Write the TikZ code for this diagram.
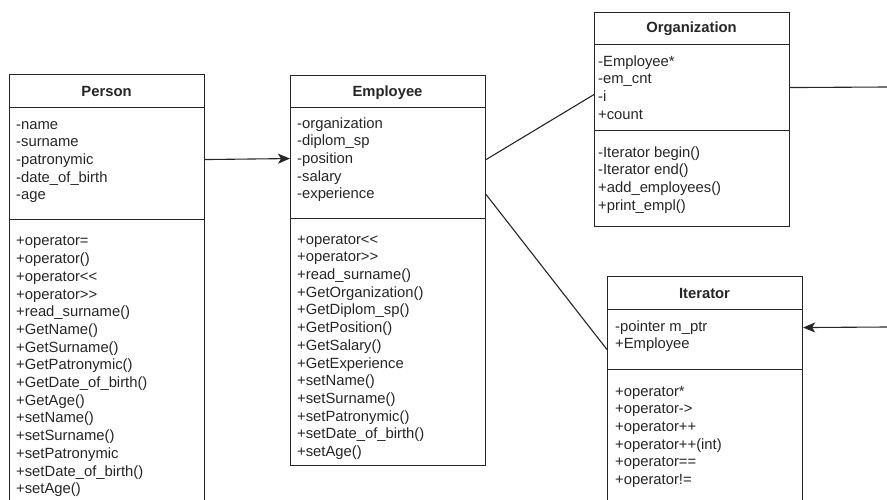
\documentclass[tikz,border=0pt]{standalone}
\usepackage{fontspec}
\setmainfont[Ligatures=ResetAll]{Liberation Sans}
\usetikzlibrary{arrows.meta}
\tikzset{
  box/.style={draw=black!85, line width=1.1pt, anchor=north west, inner sep=0pt, minimum width=195pt},
  ttl/.style={anchor=base, inner sep=0pt, font=\fontsize{14.8}{17.7}\selectfont\bfseries, text=black!85},
  txt/.style={anchor=north west, inner sep=0pt, align=left, font=\fontsize{14.8}{17.7}\selectfont, text=black!85},
  conn/.style={draw=black!85, line width=1.1pt},
  arr/.style={conn, -{Stealth[length=12pt, width=10pt, inset=3pt]}}
}
\begin{document}
\begin{tikzpicture}[x=1pt,y=-1pt]
\useasboundingbox (0,0) rectangle (887,500);
\clip (0,0) rectangle (887,500);
% Person
\node[box, minimum height=33pt] (ph) at (9,74) {};
\node[box, minimum height=112pt] (pa) at (9,107) {};
\node[box, minimum height=300pt] (pm) at (9,219) {};
\node[ttl] (pt) at (106.5,97) {Person};
\node[txt] (pat) at (16,116.6) {\strut-name\\-surname\\-patronymic\\-date\_of\_birth\\-age};
\node[txt] (pmt) at (16,233.4) {\strut+operator=\\+operator()\\+operator{<}{<}\\+operator{>}{>}\\+read\_surname()\\+GetName()\\+GetSurname()\\+GetPatronymic()\\+GetDate\_of\_birth()\\+GetAge()\\+setName()\\+setSurname()\\+setPatronymic\\+setDate\_of\_birth()\\+setAge()};
% Employee
\node[box, minimum height=32pt] (eh) at (290,75) {};
\node[box, minimum height=111pt] (ea) at (290,107) {};
\node[box, minimum height=247pt] (em) at (290,218) {};
\node[ttl] (et) at (387.5,97) {Employee};
\node[txt] (eat) at (297,115.6) {\strut-organization\\-diplom\_sp\\-position\\-salary\\-experience};
\node[txt] (emt) at (297,231.6) {\strut+operator{<}{<}\\+operator{>}{>}\\+read\_surname()\\+GetOrganization()\\+GetDiplom\_sp()\\+GetPosition()\\+GetSalary()\\+GetExperience\\+setName()\\+setSurname()\\+setPatronymic()\\+setDate\_of\_birth()\\+setAge()};
% Organization
\node[box, minimum height=32pt] (oh) at (594,12) {};
\node[box, minimum height=86pt] (oa) at (594,44) {};
\node[box, minimum height=96pt] (om) at (594,130) {};
\node[ttl] (ot) at (691.5,33) {Organization};
\node[txt] (oat) at (598,53.6) {\strut-Employee*\\-em\_cnt\\-i\\+count};
\node[txt] (omt) at (598,144.6) {\strut-Iterator begin()\\-Iterator end()\\+add\_employees()\\+print\_empl()};
% Iterator
\node[box, minimum height=33pt] (ih) at (607,276) {};
\node[box, minimum height=60pt] (ia) at (607,309) {};
\node[box, minimum height=200pt] (im) at (607,369) {};
\node[ttl] (it) at (704.5,298) {Iterator};
\node[txt] (iat) at (615,318.6) {\strut-pointer m\_ptr\\+Employee};
\node[txt] (imt) at (615,383.6) {\strut+operator*\\+operator-{}>\\+operator++\\+operator++(int)\\+operator==\\+operator!=};
% connectors
\coordinate (oend) at (887,87);
\coordinate (istart) at (887,327);
\draw[arr] ([yshift=4pt]pa.east) -- ([yshift=4.5pt]ea.west);
\draw[conn] ([yshift=3.5pt]ea.east) -- ([yshift=-7pt]oa.west);
\draw[conn] ([yshift=-31.5pt]ea.east) -- ([yshift=-10pt]ia.west);
\draw[conn] (oa.east) -- (oend);
\draw[arr] (istart) -- ([yshift=12pt]ia.east);
\end{tikzpicture}
\end{document}
